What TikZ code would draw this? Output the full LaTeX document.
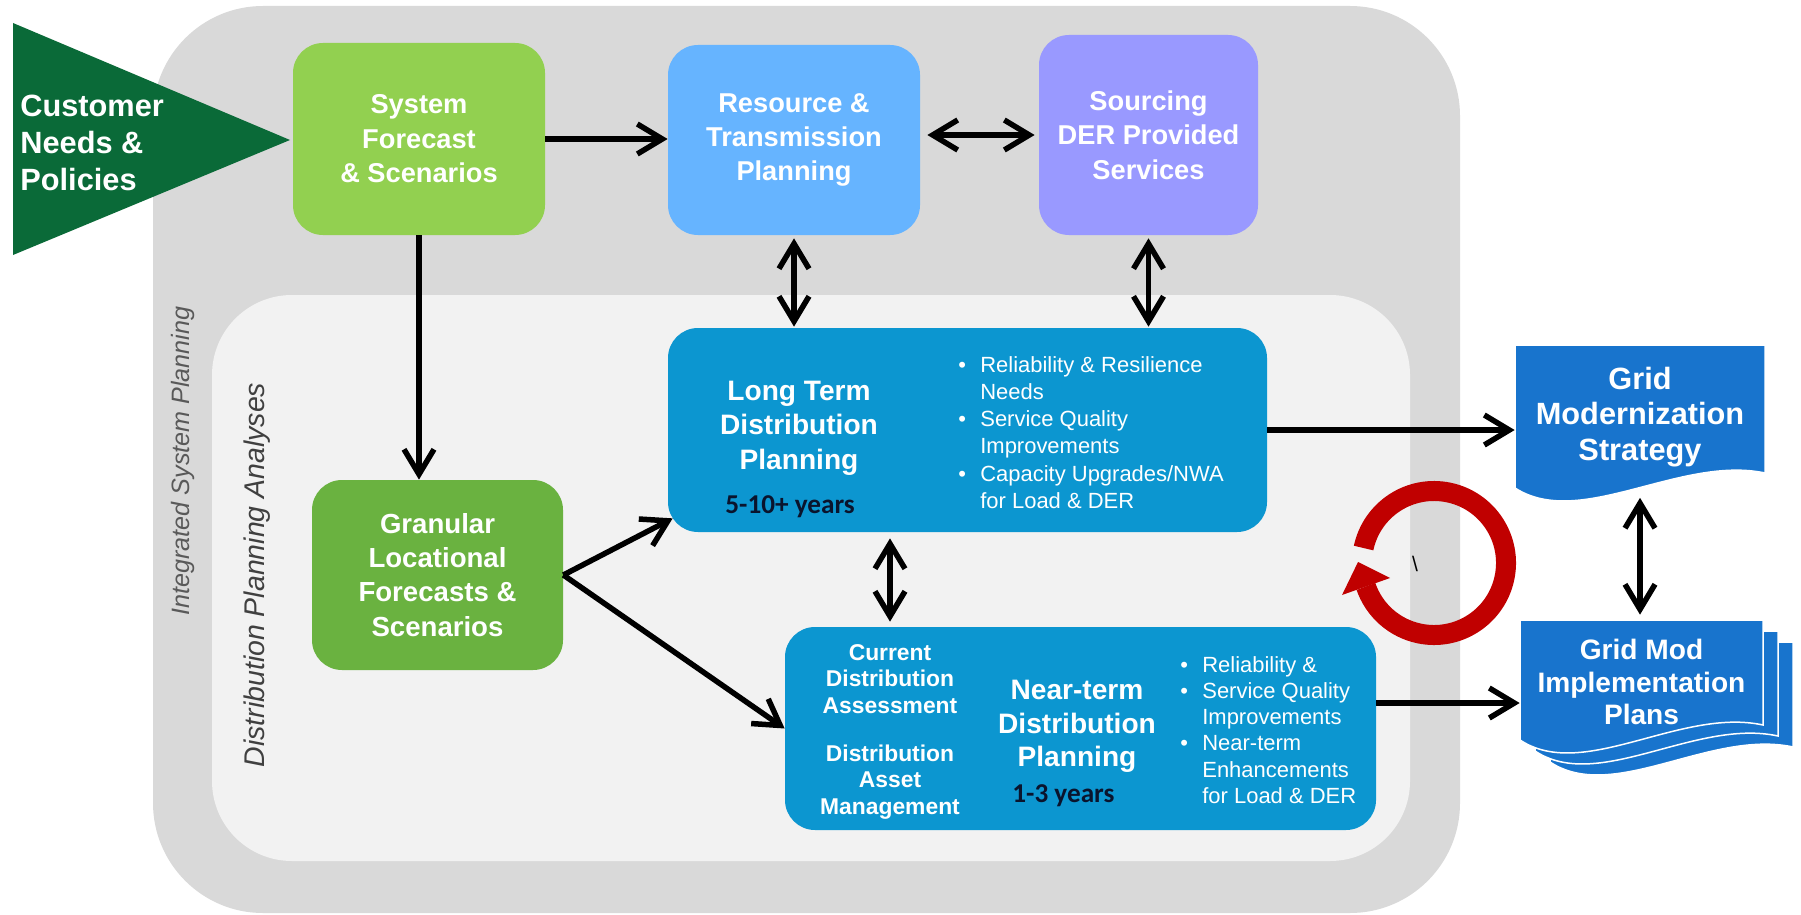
\documentclass[tikz,border=0pt]{standalone}
\usepackage{fontspec}
\setmainfont{Liberation Sans}
\newfontfamily\carlito{Carlito}
\usetikzlibrary{arrows.meta,calc}
\definecolor{dgreen}{RGB}{10,106,56}
\definecolor{limeg}{RGB}{146,208,80}
\definecolor{grang}{RGB}{106,178,64}
\definecolor{ltblue}{RGB}{102,180,255}
\definecolor{lavend}{RGB}{153,153,255}
\definecolor{dblue}{RGB}{12,150,208}
\definecolor{docblue}{RGB}{24,116,205}
\definecolor{ringred}{RGB}{192,0,0}
\definecolor{outerg}{RGB}{217,217,217}
\definecolor{innerg}{RGB}{242,242,242}
\definecolor{txtg}{RGB}{89,89,89}
\definecolor{txtdg}{RGB}{64,64,64}
\definecolor{navy}{RGB}{10,20,45}
\newcommand\myfs[2]{\fontsize{#1}{#2}\selectfont}
\newcommand\bul{\makebox[4.4mm][l]{\textbullet}}
\newcommand\nob{\hspace*{4.4mm}}
\newcommand\docshape[4]{(#1,#2) -- (#3,#2) -- (#3,#4-15) .. controls ({#1+0.66*(#3-#1)},#4-33) and ({#1+0.26*(#3-#1)},#4+42) .. (#1,#4) -- cycle}
\tikzset{
  box/.style={rounded corners=6mm, inner sep=0pt, align=center, text=white},
  arr/.style={line width=1.1mm, -{Straight Barb[length=5mm,width=6mm]}},
  darr/.style={line width=1.1mm, {Straight Barb[length=5mm,width=6mm]}-{Straight Barb[length=5mm,width=6mm]}},
  doc/.style={fill=docblue, draw=white, line width=0.3mm},
  wtxt/.style={text=white, inner sep=0pt}
}
\begin{document}
\begin{tikzpicture}[x=0.2mm,y=-0.2mm]
\useasboundingbox (0,0) rectangle (1801,915);
\fill[white] (0,0) rectangle (1801,915);
% backgrounds
\fill[outerg, rounded corners=22mm] (153,6) rectangle (1460,913);
\fill[innerg, rounded corners=16mm] (212,295) rectangle (1410,861);
% customer triangle
\fill[dgreen] (13,23) -- (290,140) -- (13,255) -- cycle;
\node[wtxt, anchor=north west, align=left, font=\myfs{17.5}{21}\bfseries] (CN) at (20,95) {Customer\\Needs \&\\Policies};
% rotated labels
\node[rotate=90, font=\myfs{14.3}{16}\itshape, text=txtg, inner sep=0pt] (ISP) at (183,461) {Integrated System Planning};
\node[rotate=90, font=\myfs{16.2}{18}\itshape, text=txtdg, inner sep=0pt] (DPA) at (257,575) {Distribution Planning Analyses};
% documents
\draw[doc] \docshape{1515}{345}{1765}{488};
\draw[doc] \docshape{1550}{642}{1793}{762};
\draw[doc] \docshape{1535}{631}{1778}{751};
\draw[doc] \docshape{1520}{620}{1763}{740};
% red cycle
\draw[ringred, line width=4mm] ([shift={(-168:72)}]1434,563) arc[start angle=-168, end angle=161, radius=72];
\fill[ringred] (1390,578) -- (1358,562) -- (1342,595) -- cycle;
\node[font=\myfs{12}{14}, inner sep=0pt] (BS) at (1415,564) {\textbackslash};
% boxes
\node[box, fill=limeg, minimum width=50.4mm, minimum height=38.4mm, font=\myfs{15.5}{19.6}\bfseries] (SF) at (419,139) {System\\Forecast\\\& Scenarios};
\node[box, fill=ltblue, minimum width=50.4mm, minimum height=38mm, font=\myfs{15.5}{19.6}\bfseries] (RT) at (794,140) {Resource \&\\Transmission\\Planning};
\node[box, fill=lavend, minimum width=43.8mm, minimum height=40mm, font=\myfs{15.5}{19.6}\bfseries] (SD) at (1148.5,135) {Sourcing\\DER Provided\\Services};
\node[box, fill=grang, minimum width=50.2mm, minimum height=38mm, font=\myfs{15.7}{19.4}\bfseries] (GR) at (437.5,575) {Granular\\Locational\\Forecasts \&\\Scenarios};
\node[box, fill=dblue, minimum width=119.8mm, minimum height=40.8mm] (LT) at (967.5,430) {};
\node[box, fill=dblue, minimum width=118.2mm, minimum height=40.6mm] (NT) at (1080.5,728.5) {};
% long term texts
\node[wtxt, anchor=north, align=center, font=\myfs{16}{19.5}\bfseries] (LTt) at (799,381) {Long Term\\Distribution\\Planning};
\node[inner sep=0pt, anchor=base west, text=navy, font=\carlito\myfs{15.5}{18}\bfseries] (LTy) at (725,513) {5-10+ years};
\node[wtxt, anchor=north west, align=left, font=\myfs{12.5}{15.5}] (LTb) at (958,356) {\bul Reliability \& Resilience\\\nob Needs\\\bul Service Quality\\\nob Improvements\\\bul Capacity Upgrades/NWA\\\nob for Load \& DER};
% near term texts
\node[wtxt, anchor=north, align=center, font=\myfs{13}{15.1}\bfseries] (NTa) at (890,644) {Current\\Distribution\\Assessment\\[12pt]Distribution\\Asset\\Management};
\node[wtxt, anchor=north, align=center, font=\myfs{16}{19.1}\bfseries] (NTt) at (1077,680) {Near-term\\Distribution\\Planning};
\node[inner sep=0pt, anchor=base west, text=navy, font=\carlito\myfs{15.5}{18}\bfseries] (NTy) at (1012,802) {1-3 years};
\node[wtxt, anchor=north west, align=left, font=\myfs{12.5}{14.9}] (NTb) at (1180,656) {\bul Reliability \&\\\bul Service Quality\\\nob Improvements\\\bul Near-term\\\nob Enhancements\\\nob for Load \& DER};
% document texts
\node[wtxt, align=center, minimum width=50mm, minimum height=29mm, font=\myfs{17.5}{20}\bfseries] (GS) at (1640,417) {Grid\\Modernization\\Strategy};
\node[wtxt, align=center, minimum width=48.6mm, minimum height=24.8mm, font=\myfs{16}{18.5}\bfseries] (GI) at (1641.5,682) {Grid Mod\\Implementation\\Plans};
% arrows
\draw[arr] (SF.east) -- (SF.east -| RT.west);
\draw[darr, shorten <=1.4mm, shorten >=0.8mm] (RT.east |- SD.west) -- (SD.west);
\draw[darr, shorten <=0.6mm, shorten >=0.2mm] (RT.south) -- (RT.south |- LT.north);
\draw[darr, shorten <=0.6mm, shorten >=0.2mm] (SD.south) -- (SD.south |- LT.north);
\draw[arr] (SF.south) -- (SF.south |- GR.north);
\coordinate (ltin) at ($(LT.south west)+(5,-14)$);
\draw[arr] (GR.east) -- (ltin);
\draw[arr] (GR.east) -- (NT.west);
\draw[darr, shorten <=1.2mm, shorten >=1mm] (LT.south -| NTa) -- (NT.north -| NTa);
\draw[arr] (LT.east) -- (LT.east -| GS.west);
\coordinate (ntout) at ($(NT.east)+(0,-25.5)$);
\draw[arr] (ntout) -- (ntout -| GI.west);
\draw[darr, shorten <=1.6mm, shorten >=1mm] (GS.south) -- (GS.south |- GI.north);
\end{tikzpicture}
\end{document}
